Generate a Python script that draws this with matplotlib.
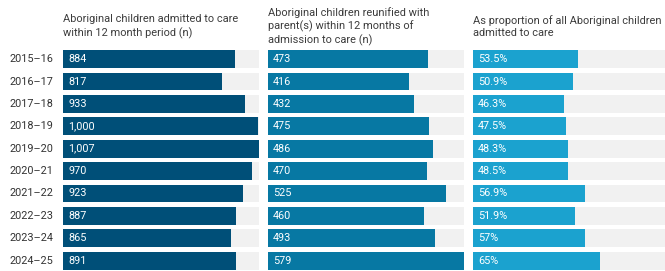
import matplotlib.pyplot as plt
import numpy as np

plt.rcParams['font.family'] = ['Roboto', 'DejaVu Sans']

years = ['2015–16', '2016–17', '2017–18', '2018–19', '2019–20',
         '2020–21', '2021–22', '2022–23', '2023–24', '2024–25']
admitted = [884, 817, 933, 1000, 1007, 970, 923, 887, 865, 891]
reunified = [473, 416, 432, 475, 486, 470, 525, 460, 493, 579]
proportion = [53.5, 50.9, 46.3, 47.5, 48.3, 48.5, 56.9, 51.9, 57, 65]
prop_labels = ['53.5%', '50.9%', '46.3%', '47.5%', '48.3%', '48.5%',
               '56.9%', '51.9%', '57%', '65%']

titles = ['Aboriginal children admitted to care\nwithin 12 month period (n)',
          'Aboriginal children reunified with\nparent(s) within 12 months of\nadmission to care (n)',
          'As proportion of all Aboriginal children\nadmitted to care']
colors = ['#004f78', '#0778a3', '#1ba2cf']

W, H = 665, 271
fig = plt.figure(figsize=(W / 100, H / 100), dpi=100)

panels = [
    (63, admitted, [f'{v:,}' for v in admitted], max(admitted)),
    (268, reunified, [str(v) for v in reunified], max(reunified)),
    (473, proportion, prop_labels, 100),
]

y = np.arange(len(years))
for i, (x0, vals, labels, xmax) in enumerate(panels):
    ax = fig.add_axes([x0 / W, -0.003, 196 / W, 0.826])
    ax.barh(y, [xmax] * len(y), height=0.8, color='#f1f1f1')
    ax.barh(y, vals, height=0.8, color=colors[i])
    for yi, lab in zip(y, labels):
        ax.text(xmax * 0.026, yi, lab, color='white', fontsize=7.8,
                va='center', ha='left')
    ax.set_xlim(0, xmax)
    ax.set_ylim(len(years) - 0.5, -0.5)
    ax.axis('off')
    fig.text(x0 / W, 1 - 26.5 / H, titles[i], fontsize=7.9, color='#3c3c3c',
             ha='left', va='center', linespacing=1.3)
    if i == 0:
        for yi, yr in zip(y, years):
            ax.text(-xmax * 0.05, yi, yr, fontsize=7.8, color='#333333',
                    ha='right', va='center')

fig.savefig('out.png', dpi=100)
